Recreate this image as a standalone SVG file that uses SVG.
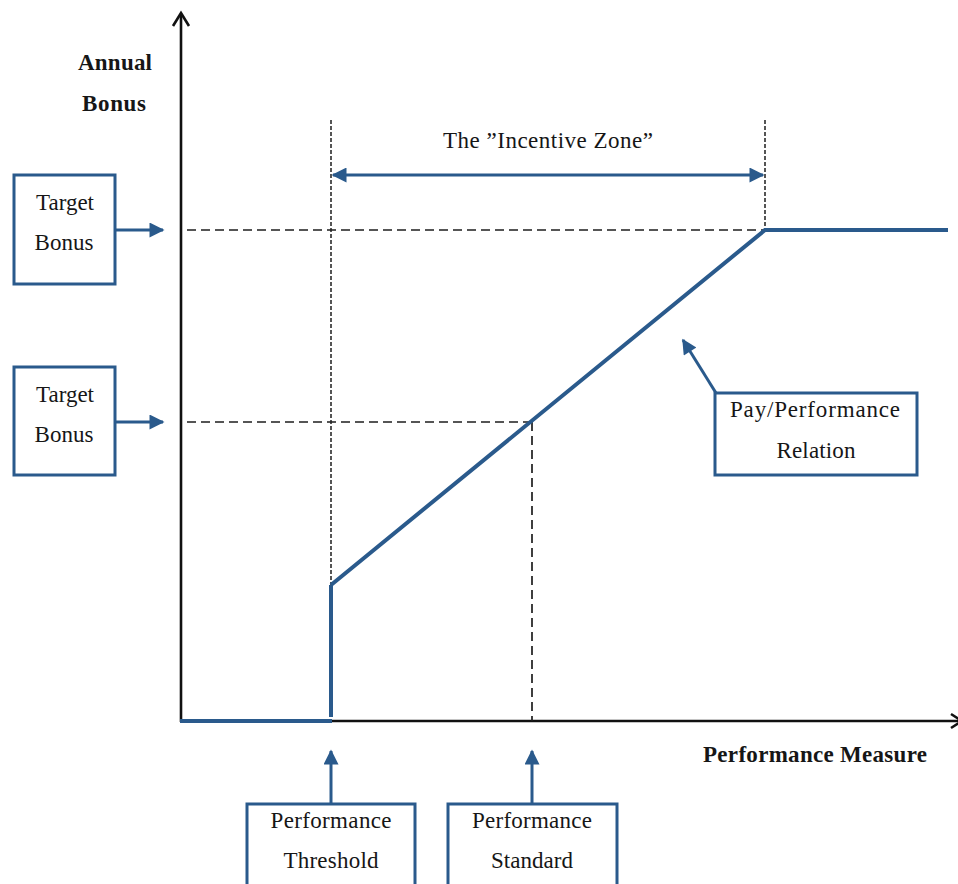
<svg xmlns="http://www.w3.org/2000/svg" width="958" height="884" viewBox="0 0 958 884">
  <style>
    .box { fill: #ffffff; stroke: #2a5a8c; stroke-width: 3; }
    .lbl { font-family: "Liberation Serif", "Times New Roman", serif; font-size: 23px; fill: #161616; text-anchor: middle; }
    .bold { font-weight: bold; }
    .axis { stroke: #111111; stroke-width: 2.6; fill: none; }
    .dash { stroke: #1e1e1e; stroke-width: 1.7; fill: none; stroke-dasharray: 9 5; }
    .dot { stroke: #1e1e1e; stroke-width: 1.5; fill: none; stroke-dasharray: 4 2; }
    .blue { stroke: #2a5a8c; stroke-width: 4; fill: none; }
    .ptr { stroke: #2a5a8c; stroke-width: 3; fill: none; }
  </style>
  <defs>
    <marker id="tri" viewBox="0 0 10 10" refX="9" refY="5" markerWidth="5.5" markerHeight="5" markerUnits="strokeWidth" orient="auto-start-reverse">
      <path d="M0,0 L10,5 L0,10 Z" fill="#2a5a8c"/>
    </marker>
  </defs>

  <rect width="958" height="884" fill="#ffffff"/>

  <!-- axes -->
  <g id="axes">
    <line class="axis" x1="181" y1="722" x2="181" y2="14"/>
    <path class="axis" d="M173,26 L181,13 L189,26"/>
    <line class="axis" x1="180" y1="721" x2="958" y2="721"/>
    <path class="axis" d="M951,714 L962,721 L951,728"/>
    <text class="lbl bold" x="115" y="70" textLength="74">Annual</text>
    <text class="lbl bold" x="114" y="111" textLength="64">Bonus</text>
    <text class="lbl bold" x="815" y="762" textLength="224">Performance Measure</text>
  </g>

  <!-- guide lines -->
  <g id="guides">
    <line class="dash" x1="187" y1="230" x2="765" y2="230"/>
    <line class="dash" x1="187" y1="422" x2="532" y2="422"/>
    <line class="dot" x1="331" y1="120" x2="331" y2="586"/>
    <line class="dot" x1="765" y1="120" x2="765" y2="230"/>
    <line class="dash" x1="532" y1="422" x2="532" y2="721"/>
  </g>

  <!-- pay/performance curve -->
  <g id="curve">
    <line class="blue" x1="180" y1="721" x2="332" y2="721"/>
    <line class="blue" x1="331" y1="717" x2="331" y2="585"/>
    <polyline class="blue" points="331,585 765,230 948,230"/>
  </g>

  <!-- incentive zone -->
  <g id="incentive-zone">
    <line class="ptr" x1="333" y1="175" x2="763" y2="175" marker-start="url(#tri)" marker-end="url(#tri)"/>
    <text class="lbl" x="548" y="148" textLength="210">The ”Incentive Zone”</text>
  </g>

  <!-- connectors -->
  <g id="connectors">
    <line class="ptr" x1="116" y1="230" x2="163" y2="230" marker-end="url(#tri)"/>
    <line class="ptr" x1="116" y1="422" x2="163" y2="422" marker-end="url(#tri)"/>
    <line class="ptr" x1="716" y1="393" x2="683" y2="340" marker-end="url(#tri)"/>
    <line class="ptr" x1="331" y1="804" x2="331" y2="751" marker-end="url(#tri)"/>
    <line class="ptr" x1="532" y1="804" x2="532" y2="751" marker-end="url(#tri)"/>
  </g>

  <!-- nodes -->
  <g id="target-bonus-top">
    <rect class="box" x="14" y="175" width="101" height="109"/>
    <text class="lbl" x="65" y="210" textLength="58">Target</text>
    <text class="lbl" x="64" y="250" textLength="59">Bonus</text>
  </g>
  <g id="target-bonus-mid">
    <rect class="box" x="14" y="367" width="101" height="108"/>
    <text class="lbl" x="65" y="402" textLength="58">Target</text>
    <text class="lbl" x="64" y="442" textLength="59">Bonus</text>
  </g>
  <g id="pay-performance">
    <rect class="box" x="715" y="393" width="202" height="82"/>
    <text class="lbl" x="815" y="417" textLength="170">Pay/Performance</text>
    <text class="lbl" x="816" y="458" textLength="79">Relation</text>
  </g>
  <g id="performance-threshold">
    <rect class="box" x="247" y="804" width="168" height="90"/>
    <text class="lbl" x="331" y="828" textLength="121">Performance</text>
    <text class="lbl" x="331" y="868" textLength="95">Threshold</text>
  </g>
  <g id="performance-standard">
    <rect class="box" x="448" y="804" width="169" height="90"/>
    <text class="lbl" x="532" y="828" textLength="120">Performance</text>
    <text class="lbl" x="532" y="868" textLength="82">Standard</text>
  </g>
</svg>
